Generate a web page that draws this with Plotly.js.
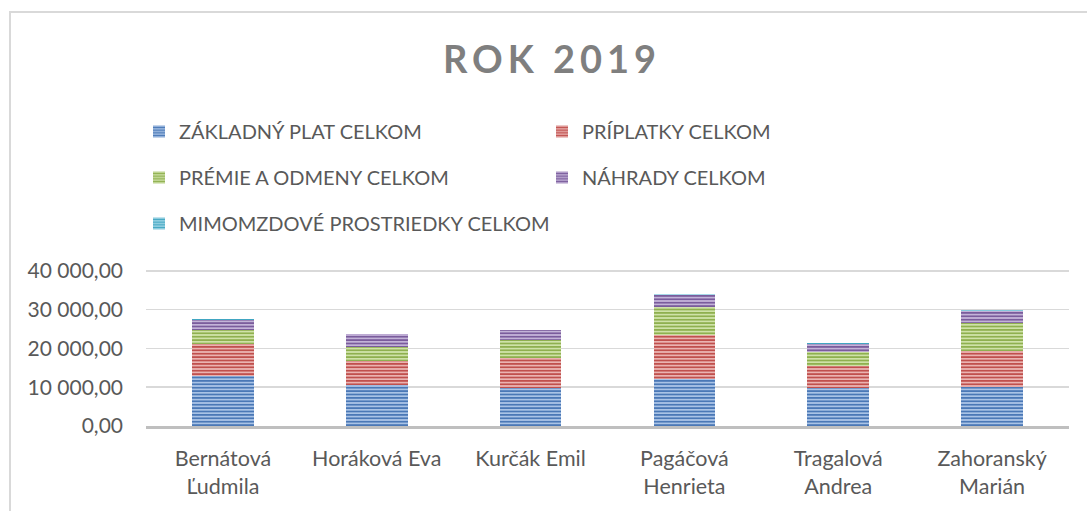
<!DOCTYPE html>
<html>
<head>
<meta charset="utf-8">
<script src="https://cdn.plot.ly/plotly-3.0.1.min.js"></script>
<style>
  html, body { margin: 0; padding: 0; background: #ffffff; overflow: hidden; }
  #frame { position: absolute; left: 9px; top: 11px; width: 1200px; height: 600px;
           border-left: 2px solid #d9d9d9; border-top: 2px solid #d9d9d9; }
  #chart { position: absolute; left: 0; top: 0; width: 1087px; height: 511px; }
  .gtitle { letter-spacing: 5px; }
</style>
</head>
<body>
<div id="frame"></div>
<div id="chart"></div>
<script>
// ---- data ----
const categories = ['Bernátová Ľudmila', 'Horáková Eva', 'Kurčák Emil', 'Pagáčová Henrieta', 'Tragalová Andrea', 'Zahoranský Marián'];
const tickLabels = ['Bernátová<br>Ľudmila', 'Horáková Eva', 'Kurčák Emil', 'Pagáčová<br>Henrieta', 'Tragalová<br>Andrea', 'Zahoranský<br>Marián'];
const seriesNames = ['ZÁKLADNÝ PLAT CELKOM', 'PRÍPLATKY CELKOM', 'PRÉMIE A ODMENY CELKOM', 'NÁHRADY CELKOM', 'MIMOMZDOVÉ PROSTRIEDKY CELKOM'];
const zakladnyPlat   = [12900, 10500, 9900, 12150, 9800, 10000];
const priplatky      = [8200, 6200, 7650, 11200, 5700, 9400];
const premieOdmeny   = [3600, 3550, 4550, 7250, 3550, 7100];
const nahrady        = [2600, 3350, 2600, 3100, 2150, 3200];
const mimomzdove     = [200, 100, 100, 250, 100, 250];
const yTicks = [0, 10000, 20000, 30000, 40000];

// ---- styling ----
const seriesValues = [zakladnyPlat, priplatky, premieOdmeny, nahrady, mimomzdove];
const fg = ['#4a78b6', '#c0504d', '#8fb04f', '#7a5c9c', '#41a6c2'];
const bg = ['#a9c3e6', '#eab3b1', '#cfe2a8', '#c3b3d8', '#a6d9e8'];
const legendOf = ['legend', 'legend2', 'legend', 'legend2', 'legend'];
const textColor = '#595959';
const fontFam = 'Lato, "Open Sans", sans-serif';

const traces = seriesValues.map((vals, i) => ({
  type: 'bar',
  name: seriesNames[i],
  x: categories,
  y: vals,
  legend: legendOf[i],
  legendgroup: 'g' + i,
  marker: {
    color: bg[i],
    line: { width: 0 },
    pattern: { shape: '-', fgcolor: fg[i], bgcolor: bg[i], size: 3.4, solidity: 0.5, fillmode: 'replace' }
  },
  hoverinfo: 'x+y+name'
}));

const legendBase = {
  orientation: 'v',
  xref: 'container', yref: 'container',
  xanchor: 'left', yanchor: 'top',
  y: 1 - 112 / 511,
  font: { family: fontFam, size: 20, color: textColor },
  bgcolor: 'rgba(0,0,0,0)',
  borderwidth: 0,
  tracegroupgap: 17,
  traceorder: 'grouped'
};

const layout = {
  width: 1087,
  height: 511,
  paper_bgcolor: 'rgba(0,0,0,0)',
  plot_bgcolor: 'rgba(0,0,0,0)',
  separators: ', ',
  barmode: 'stack',
  bargap: 0.6,
  margin: { l: 146, r: 18, t: 267, b: 85, pad: 0, autoexpand: false },
  font: { family: fontFam, color: textColor },
  title: {
    text: '<b>ROK 2019</b>',
    xref: 'container', yref: 'container',
    x: 552 / 1087, xanchor: 'center',
    y: 1 - 60 / 511, yanchor: 'middle',
    font: { family: fontFam, size: 38, color: '#7f7f7f' }
  },
  showlegend: true,
  legend: Object.assign({}, legendBase, { x: 139 / 1087 }),
  legend2: Object.assign({}, legendBase, { x: 542 / 1087 }),
  xaxis: {
    type: 'category',
    tickvals: categories,
    ticktext: tickLabels,
    tickangle: 0,
    automargin: false,
    showgrid: false,
    zeroline: false,
    showline: true,
    linecolor: '#bfbfbf',
    linewidth: 3,
    ticks: '',
    ticklabelstandoff: 11,
    tickfont: { family: fontFam, size: 21.5, color: textColor },
    fixedrange: true
  },
  yaxis: {
    range: [0, 41000],
    tickvals: yTicks,
    tickformat: ',.2f',
    automargin: false,
    showgrid: true,
    gridcolor: '#d9d9d9',
    gridwidth: 1.5,
    zeroline: false,
    showline: false,
    ticks: '',
    ticklabelstandoff: 22,
    tickfont: { family: fontFam, size: 21, color: textColor },
    fixedrange: true
  }
};

Plotly.newPlot('chart', traces, layout, { displayModeBar: false, staticPlot: true });
</script>
</body>
</html>
